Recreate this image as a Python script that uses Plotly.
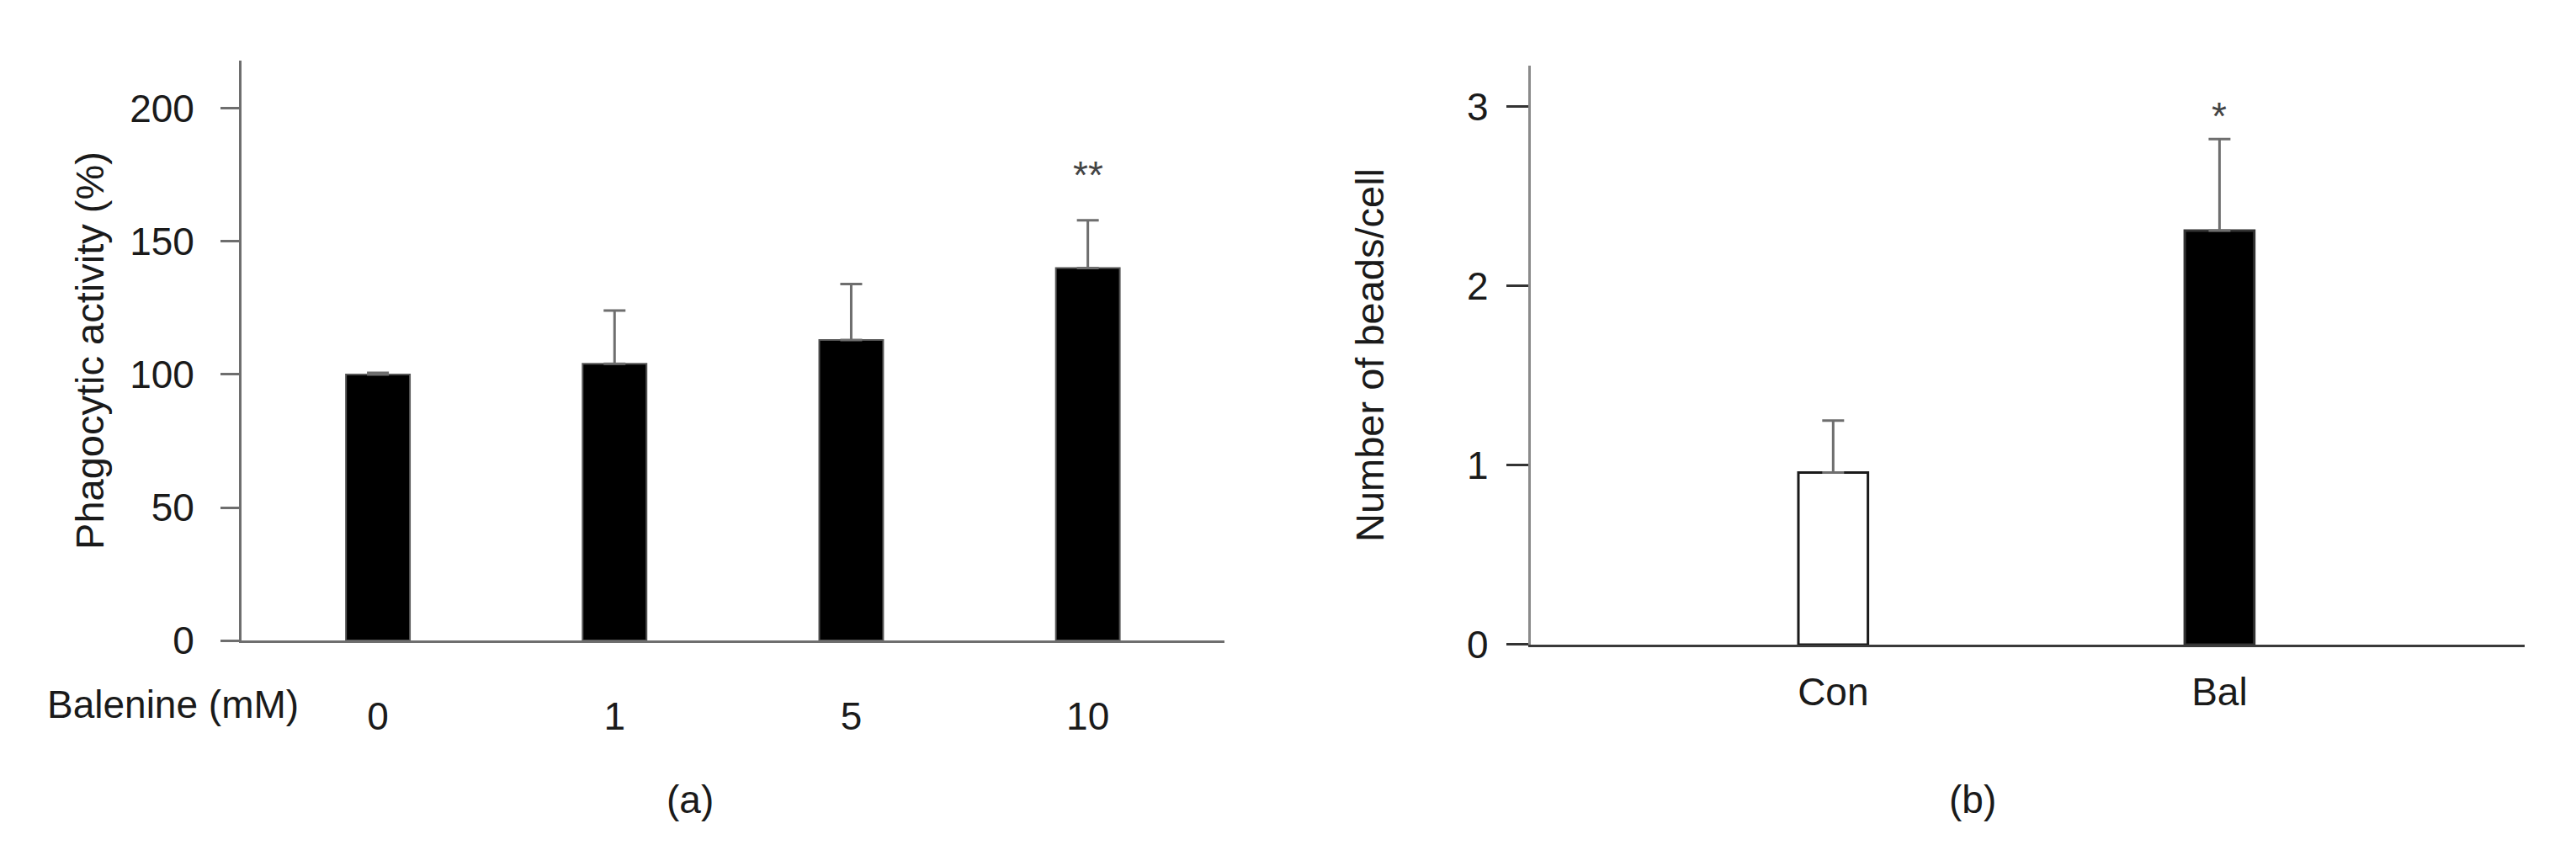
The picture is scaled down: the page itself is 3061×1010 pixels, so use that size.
import plotly.graph_objects as go

# panel (a): phagocytic activity vs balenine dose
dose_labels = ['0', '1', '5', '10']
activity = [100, 104, 113, 140]
activity_err = [0.6, 20, 21, 18]

# panel (b): beads per cell
groups = ['Con', 'Bal']
beads = [0.96, 2.31]
beads_err = [0.29, 0.51]

FONT = 'Liberation Sans, Arial, sans-serif'
TXT = '#1a1a1a'
GREY = '#6e6e6e'

# the page body adds ~8px offset, compensate in paper fractions
DX = 8 / 3061
DY = 8 / 1010

fig = go.Figure()

fig.add_trace(go.Bar(
    x=dose_labels, y=activity, width=0.27,
    marker=dict(color='black', line=dict(color='#555555', width=2)),
    error_y=dict(type='data', array=activity_err, arrayminus=[0] * 4, symmetric=False,
                 color=GREY, thickness=3, width=13),
    xaxis='x', yaxis='y', showlegend=False,
))

fig.add_trace(go.Bar(
    x=groups, y=beads, width=0.18,
    marker=dict(color=['white', 'black'], line=dict(color=['#1a1a1a', '#333333'], width=3)),
    error_y=dict(type='data', array=beads_err, arrayminus=[0] * 2, symmetric=False,
                 color=GREY, thickness=3, width=13),
    xaxis='x2', yaxis='y2', showlegend=False,
))

fig.update_layout(
    template='none',
    width=3061, height=1010,
    margin=dict(l=0, r=0, t=0, b=0),
    paper_bgcolor='white', plot_bgcolor='white',
    font=dict(family=FONT, size=46, color=TXT),
    xaxis=dict(type='category', domain=[0.0938 - DX, 0.4753 - DX], range=[-0.576, 3.577],
               showline=True, linecolor=GREY, linewidth=3, ticks='', showgrid=False,
               zeroline=False, automargin=False, ticklabelstandoff=48, anchor='y'),
    yaxis=dict(domain=[0.2465 + DY, 0.9287 + DY], range=[0, 218], showline=True,
               linecolor=GREY, linewidth=3, ticks='outside', ticklen=22, tickwidth=3,
               tickcolor=GREY, tickvals=[0, 50, 100, 150, 200], showgrid=False,
               zeroline=False, automargin=False, ticklabelstandoff=22, anchor='x',
               title=dict(text='Phagocytic activity (%)', standoff=16,
                          font=dict(size=47))),
    xaxis2=dict(type='category', domain=[0.5942 - DX, 0.9801 - DX], range=[-0.783, 1.79],
                showline=True, linecolor='#3a3a3a', linewidth=3, ticks='', showgrid=False,
                zeroline=False, automargin=False, ticklabelstandoff=14, anchor='y2'),
    yaxis2=dict(domain=[0.2416 + DY, 0.9228 + DY], range=[0, 3.23], showline=True,
                linecolor='#8a8a8a', linewidth=3, ticks='outside', ticklen=26, tickwidth=3,
                tickcolor='#333333', tickvals=[0, 1, 2, 3], showgrid=False, zeroline=False,
                automargin=False, ticklabelstandoff=12, anchor='x2',
                title=dict(text='Number of beads/cell', standoff=84,
                           font=dict(size=47))),
)

# significance marks (x given as category index)
fig.add_annotation(x=3, y=175, xref='x', yref='y', text='**', showarrow=False,
                   xanchor='center', yanchor='middle', font=dict(size=46, color='#444444'))
fig.add_annotation(x=1, y=2.95, xref='x2', yref='y2', text='*', showarrow=False,
                   xanchor='center', yanchor='middle', font=dict(size=46, color='#444444'))

# dose caption on the left of the tick row
fig.add_annotation(x=0.067 - DX, y=0.1713 + DY, xref='paper', yref='paper',
                   text='Balenine (mM)', showarrow=False, xanchor='center',
                   yanchor='middle', font=dict(size=46, color=TXT))

# panel letters
for letter, xpos in [('(a)', 0.268), ('(b)', 0.7658)]:
    fig.add_annotation(x=xpos - DX, y=0.0594 + DY, xref='paper', yref='paper', text=letter,
                       showarrow=False, xanchor='center', yanchor='middle',
                       font=dict(size=46, color=TXT))

fig.write_html('out.html')
